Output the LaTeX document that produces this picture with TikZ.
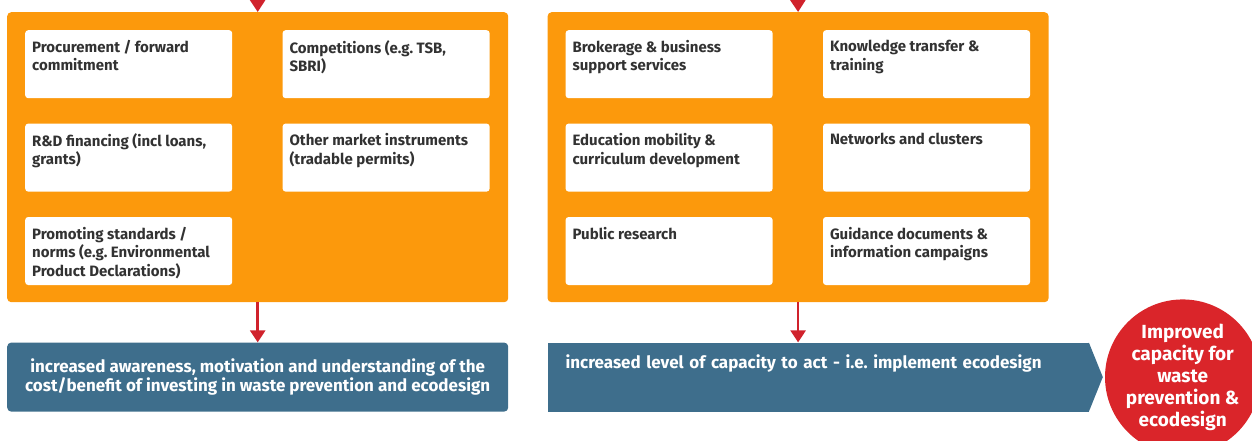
\documentclass[tikz,border=0pt]{standalone}
\usepackage{fontspec}
\setmainfont{Fira Sans}
\usetikzlibrary{positioning,arrows.meta}
\definecolor{PanelOrange}{RGB}{252,153,12}
\definecolor{OutBlue}{RGB}{62,110,140}
\definecolor{GoalRed}{RGB}{218,37,42}
\definecolor{ArrowRed}{RGB}{208,34,44}
\definecolor{CellText}{RGB}{50,50,50}

\begin{document}
\begin{tikzpicture}[x=1pt,y=-1pt,
panel/.style={rectangle,rounded corners=4pt,fill=PanelOrange,minimum width=501pt,minimum height=290pt,inner sep=0pt},
cell/.style={rectangle,rounded corners=3pt,fill=white,minimum width=207pt,minimum height=68pt,inner xsep=7pt,inner ysep=10pt,text=CellText,font=\fontsize{15}{18.5}\selectfont\bfseries,
  execute at begin node={\begin{minipage}[t][48pt][t]{193pt}\raggedright},execute at end node={\end{minipage}}},
outcome/.style={rectangle,fill=OutBlue,minimum height=69pt,inner sep=0pt,text=white,font=\fontsize{17}{19.5}\selectfont\bfseries},
goal/.style={circle,fill=GoalRed,minimum size=144pt,inner sep=0pt,align=center,text=white,font=\fontsize{19}{22}\selectfont\bfseries},
arrow/.style={-{Triangle[width=15pt,length=12pt]},line width=2.5pt,draw=ArrowRed}
]
\useasboundingbox (0,0) rectangle (1252,441);

% two orange panels
\node[panel,anchor=north west] (pl) at (7,12) {};
\node[panel,right=39pt of pl] (pr) {};

% instruments, left panel
\node[cell,below right=18pt and 18pt of pl.north west] (c1) {Procurement / forward\\commitment};
\node[cell,right=50pt of c1] (c2) {Competitions (e.g.\ TSB,\\SBRI)};
\node[cell,below=25pt of c1] (c3) {R\&D financing (incl loans,\\grants)};
\node[cell,below=25pt of c2] (c4) {Other market instruments\\(tradable permits)};
\node[cell,below=25pt of c3] (c5) {Promoting standards /\\norms (e.g.\ Environmental\\Product Declarations)};

% instruments, right panel
\node[cell,below right=18pt and 18pt of pr.north west] (d1) {Brokerage \& business\\support services};
\node[cell,right=50pt of d1] (d2) {Knowledge transfer \&\\training};
\node[cell,below=25pt of d1] (d3) {Education mobility \&\\curriculum development};
\node[cell,below=25pt of d2] (d4) {Networks and clusters};
\node[cell,below=25pt of d3] (d5) {Public research};
\node[cell,below=25pt of d4] (d6) {Guidance documents \&\\information campaigns};

% outcomes
\node[outcome,below=40pt of pl,minimum width=501pt,align=center,rounded corners=4pt] (ol) {increased awareness, motivation and understanding of the\\cost/benefit of investing in waste prevention and ecodesign};
\node[outcome,below right=40pt and 0pt of pr.south west,minimum width=541pt,text width=505pt,inner xsep=18pt,align=left,text height=13pt,text depth=31pt] (or) {increased level of capacity to act - i.e.\ implement ecodesign};
\coordinate[right=14pt of or.east] (tip);
\fill[OutBlue] (or.north east) -- (tip) -- (or.south east) -- cycle;

\node[goal,right=16pt of or.east] (gl) {Improved\\capacity for\\waste\\prevention \&\\ecodesign};

% arrows
\coordinate (inl) at (257.5,-30);
\coordinate (inr) at (797.5,-30);
\draw[arrow] (inl) -- (pl.north);
\draw[arrow] (inr) -- (pr.north);
\draw[arrow] (pl.south) -- (ol.north);
\draw[arrow] (pr.south) -- (pr.south |- or.north);
\end{tikzpicture}
\end{document}
